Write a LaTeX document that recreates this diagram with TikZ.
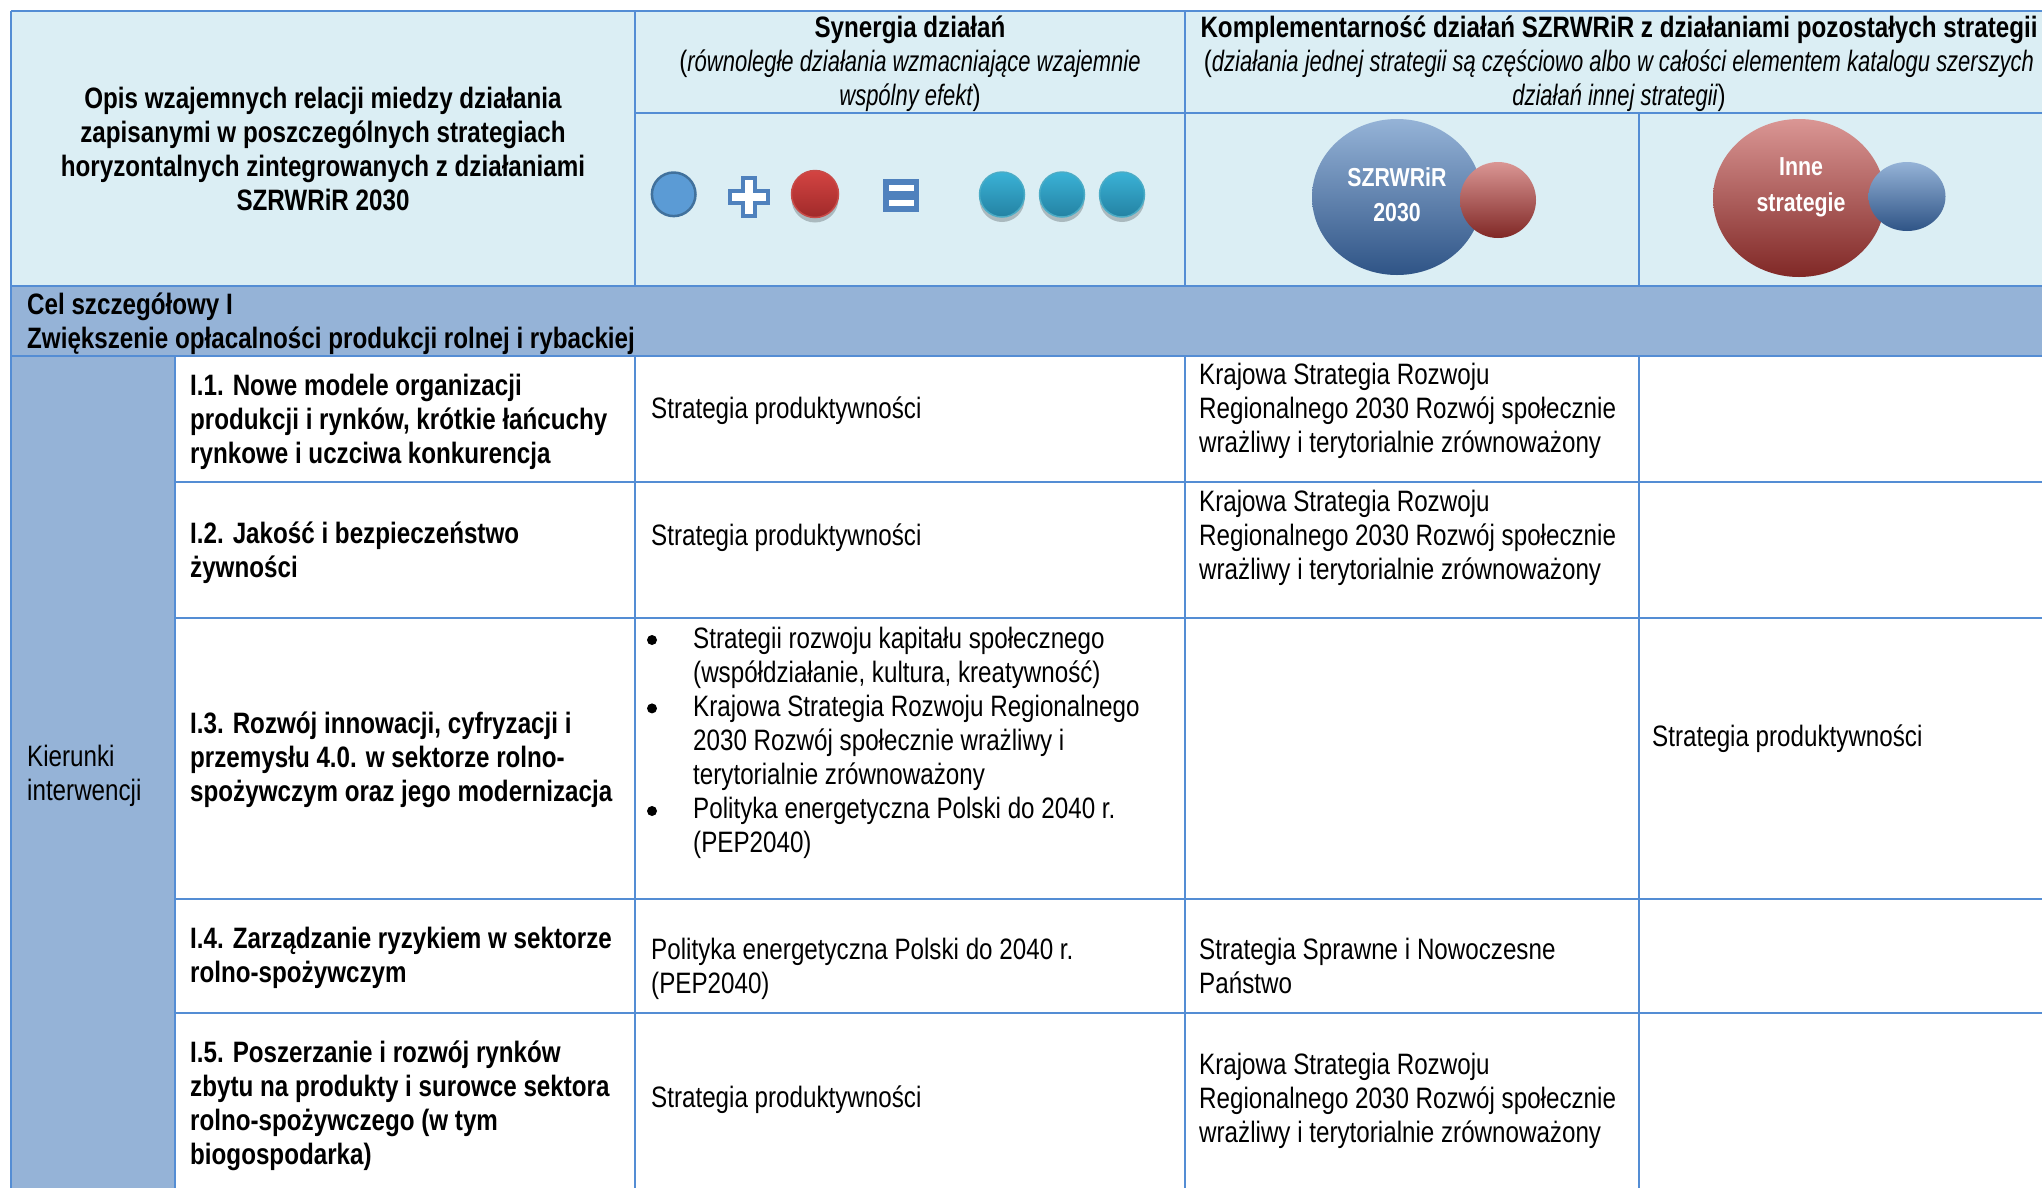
\documentclass[tikz,border=0pt]{standalone}
\usepackage{fontspec}
\setmainfont{Liberation Sans}[FakeStretch=0.82]
\newfontfamily\narrowit{Liberation Sans}[FakeStretch=0.745]
\usetikzlibrary{shadows}
\definecolor{hdrbg}{RGB}{219,238,244}
\definecolor{celbg}{RGB}{149,179,215}
\definecolor{gridc}{RGB}{84,141,212}
\definecolor{sblue}{RGB}{91,155,213}
\definecolor{sbluedk}{RGB}{65,113,156}
\definecolor{pblue}{RGB}{79,129,189}
\definecolor{redtop}{RGB}{212,68,66}
\definecolor{redbot}{RGB}{160,42,42}
\definecolor{redrim}{RGB}{200,75,72}
\definecolor{cyantop}{RGB}{58,178,214}
\definecolor{cyanbot}{RGB}{36,130,163}
\definecolor{cyanrim}{RGB}{75,172,198}
\definecolor{bbtop}{RGB}{149,179,215}
\definecolor{bbmid}{RGB}{79,129,189}
\definecolor{bbbot}{RGB}{47,84,134}
\definecolor{rbtop}{RGB}{218,150,148}
\definecolor{rbmid}{RGB}{192,80,77}
\definecolor{rbbot}{RGB}{128,40,38}
\newcommand\bodysize{\fontsize{29.5pt}{34pt}\selectfont}
\newcommand\bubsize{\fontsize{26pt}{35.5pt}\selectfont}
\newcommand\nit[1]{{\narrowit\itshape #1}}
\begin{document}
\begin{tikzpicture}[x=1pt,y=-1pt,
  txt/.style={inner sep=0pt, anchor=north west, align=left, font=\bodysize},
  btxt/.style={inner sep=0pt, anchor=north west, align=left, font=\bodysize\bfseries},
  ctxt/.style={inner sep=0pt, anchor=north, align=center, font=\bodysize},
  bubtxt/.style={inner sep=0pt, anchor=north, align=center, font=\bubsize\bfseries, text=white},
  gridline/.style={draw=gridc, line width=2.5pt},
  softshadow/.style={drop shadow={shadow xshift=0pt, shadow yshift=-5pt, fill=black, opacity=0.22}},
]
\useasboundingbox (0,0) rectangle (2042,1187);
\begin{scope}
\clip (0,0) rectangle (2042,1187);
\fill[white] (0,0) rectangle (2042,1187);
% backgrounds
\fill[hdrbg] (11,11) rectangle (2060,286);
\fill[celbg] (11,286) rectangle (2060,356);
\fill[celbg] (11,356) rectangle (175,1200);

% synergia icons
\filldraw[fill=sblue, draw=sbluedk, line width=2.5pt] (673.7,194.3) circle (21.8pt);
\draw[draw=pblue, fill=white, line width=4pt, line join=miter]
  (742.5,177.5) -- (754.5,177.5) -- (754.5,190.5) -- (767.5,190.5) -- (767.5,202.5)
  -- (754.5,202.5) -- (754.5,215.5) -- (742.5,215.5) -- (742.5,202.5) -- (729.5,202.5)
  -- (729.5,190.5) -- (742.5,190.5) -- cycle;
\path[softshadow, top color=redtop, bottom color=redbot, draw=redrim, line width=1.5pt] (815,194) circle (23.5pt);
\fill[pblue] (883,179) rectangle (919,211.7);
\fill[white] (889,185) rectangle (913.5,191);
\fill[white] (889,200) rectangle (913.5,206);
\foreach \cx in {1002,1062,1122}
  \path[softshadow, top color=cyantop, bottom color=cyanbot, draw=cyanrim, line width=1.5pt] (\cx,194.5) circle (22.5pt);

% complementarity bubbles
\path[top color=bbtop, middle color=bbmid, bottom color=bbbot] (1397,197) ellipse [x radius=85pt, y radius=78pt];
\path[top color=rbtop, middle color=rbmid, bottom color=rbbot] (1498,200) ellipse [x radius=38pt, y radius=38pt];
\path[top color=rbtop, middle color=rbmid, bottom color=rbbot] (1799,198) ellipse [x radius=86pt, y radius=79pt];
\path[top color=bbtop, middle color=bbmid, bottom color=bbbot] (1907,196.5) ellipse [x radius=38.5pt, y radius=34.5pt];
\node[bubtxt] (bub1) at (1397,161) {\strut SZRWRiR\\2030};
\node[bubtxt] (bub2) at (1801,150.5) {\strut Inne\\strategie};

% grid
\draw[gridline] (11,11) -- (2060,11);
\draw[gridline] (635,113) -- (2060,113);
\draw[gridline] (11,286) -- (2060,286);
\draw[gridline] (11,356) -- (2060,356);
\foreach \yy in {482,618,899,1013} \draw[gridline] (175,\yy) -- (2060,\yy);
\draw[gridline] (11,11) -- (11,1200);
\draw[gridline] (175,356) -- (175,1200);
\foreach \xx in {635,1185} {\draw[gridline] (\xx,11) -- (\xx,286); \draw[gridline] (\xx,356) -- (\xx,1200);}
\draw[gridline] (1639,113) -- (1639,286);
\draw[gridline] (1639,356) -- (1639,1200);

% header texts
\node[ctxt, font=\bodysize\bfseries] (hopis) at (323,84.2) {\strut Opis wzajemnych relacji miedzy działania\\zapisanymi w poszczególnych strategiach\\horyzontalnych zintegrowanych z działaniami\\SZRWRiR 2030};
\node[ctxt] (hsyn) at (910,13.7) {\strut\textbf{Synergia działań}\\(\nit{równoległe działania wzmacniające wzajemnie}\\\nit{wspólny efekt})};
\node[ctxt] (hkom) at (1619,13.7) {\strut\textbf{Komplementarność działań SZRWRiR z działaniami pozostałych strategii}\\(\nit{działania jednej strategii są częściowo albo w całości elementem katalogu szerszych}\\\nit{działań innej strategii})};

% cel row
\node[btxt] (cel) at (27,290.7) {\strut Cel szczegółowy I\\Zwiększenie opłacalności produkcji rolnej i rybackiej};
\node[txt] (kier) at (27,742.2) {\strut Kierunki\\interwencji};

% column 2
\node[btxt] (k1) at (190,371.7) {\strut I.1. Nowe modele organizacji\\produkcji i rynków, krótkie łańcuchy\\rynkowe i uczciwa konkurencja};
\node[btxt] (k2) at (190,519.2) {\strut I.2. Jakość i bezpieczeństwo\\żywności};
\node[btxt] (k3) at (190,709.2) {\strut I.3. Rozwój innowacji, cyfryzacji i\\przemysłu 4.0. w sektorze rolno-\\spożywczym oraz jego modernizacja};
\node[btxt] (k4) at (190,924.7) {\strut I.4. Zarządzanie ryzykiem w sektorze\\rolno-spożywczym};
\node[btxt] (k5) at (190,1038.5) {\strut I.5. Poszerzanie i rozwój rynków\\zbytu na produkty i surowce sektora\\rolno-spożywczego (w tym\\biogospodarka)};

% column 3
\node[txt] (s1) at (651,394.2) {\strut Strategia produktywności};
\node[txt] (s2) at (651,521.7) {\strut Strategia produktywności};
\fill (652,640) circle (5pt);
\fill (652,708.4) circle (5pt);
\fill (652,811) circle (5pt);
\node[txt] (s3) at (693,624.7) {\strut Strategii rozwoju kapitału społecznego\\(współdziałanie, kultura, kreatywność)\\Krajowa Strategia Rozwoju Regionalnego\\2030 Rozwój społecznie wrażliwy i\\terytorialnie zrównoważony\\Polityka energetyczna Polski do 2040 r.\\(PEP2040)};
\node[txt] (s4) at (651,935.2) {\strut Polityka energetyczna Polski do 2040 r.\\(PEP2040)};
\node[txt] (s5) at (651,1083.7) {\strut Strategia produktywności};

% column 4
\node[txt] (c1) at (1199,360.2) {\strut Krajowa Strategia Rozwoju\\Regionalnego 2030 Rozwój społecznie\\wrażliwy i terytorialnie zrównoważony};
\node[txt] (c2) at (1199,487.2) {\strut Krajowa Strategia Rozwoju\\Regionalnego 2030 Rozwój społecznie\\wrażliwy i terytorialnie zrównoważony};
\node[txt] (c4) at (1199,935.2) {\strut Strategia Sprawne i Nowoczesne\\Państwo};
\node[txt] (c5) at (1199,1050.2) {\strut Krajowa Strategia Rozwoju\\Regionalnego 2030 Rozwój społecznie\\wrażliwy i terytorialnie zrównoważony};

% column 5
\node[txt] (i3) at (1652,722.2) {\strut Strategia produktywności};
\end{scope}
\end{tikzpicture}
\end{document}
